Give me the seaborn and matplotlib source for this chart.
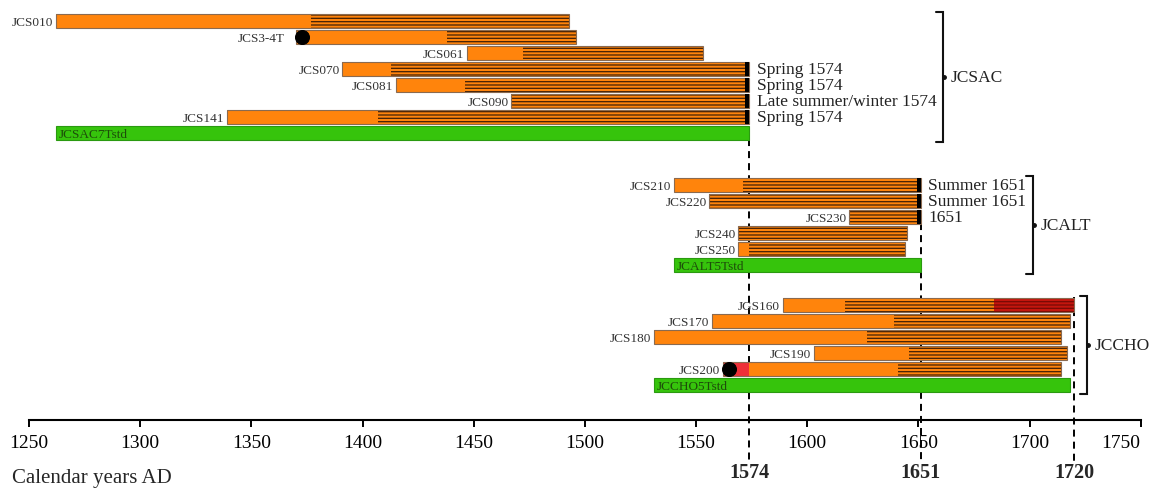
import numpy as np
import matplotlib
matplotlib.use("Agg")
import matplotlib.pyplot as plt
import seaborn as sns

# dated tree-ring series, calendar years AD
top_names = ["JCS010", "JCS3-4T", "JCS061", "JCS070", "JCS081", "JCS090", "JCS141", "JCSAC7Tstd"]
top_start = [1262, 1370, 1447, 1391, 1415, 1467, 1339, 1262]
top_sap = [1377, 1438, 1472, 1413, 1446, 1467, 1407, None]
top_end = [1493, 1496, 1553, 1574, 1574, 1574, 1574, 1574]
top_notes = ["", "", "", "Spring 1574", "Spring 1574", "Late summer/winter 1574", "Spring 1574", ""]

mid_names = ["JCS210", "JCS220", "JCS230", "JCS240", "JCS250", "JCALT5Tstd"]
mid_start = [1540, 1556, 1619, 1569, 1569, 1540]
mid_sap = [1571, 1556, 1619, 1569, 1574, None]
mid_end = [1651, 1651, 1651, 1645, 1644, 1651]
mid_notes = ["Summer 1651", "Summer 1651", "1651", "", "", ""]

bot_names = ["JGS160", "JCS170", "JCS180", "JCS190", "JCS200", "JCCHO5Tstd"]
bot_start = [1589, 1557, 1531, 1603, 1562, 1531]
bot_sap = [1617, 1639, 1627, 1646, 1641, None]
bot_end = [1720, 1718, 1714, 1717, 1714, 1718]
bot_notes = ["", "", "", "", "", ""]

# special parts of some series
late_red_name, late_red_from = "JGS160", 1684
early_red_name, early_red_to = "JCS200", 1574
pith_names = ["JCS3-4T", "JCS200"]
pith_years = [1373, 1565]
cap_names = ["JCS070", "JCS081", "JCS090", "JCS141", "JCS210", "JCS220", "JCS230"]

groups = ["JCSAC", "JCALT", "JCCHO"]
felling_years = [1574, 1651, 1720]

ORANGE = "#ff840c"
HATCH = "#4a2506"
EDGE = "#8a6a50"
GREEN = "#36c40c"
DKGREEN = "#1d4d0a"
RED = "#ee3038"
DKRED = "#c4160e"

sns.set_theme(style="white")
plt.rcParams["font.family"] = ["Liberation Serif", "DejaVu Serif"]
plt.rcParams["hatch.linewidth"] = 0.95

fig = plt.figure(figsize=(11.54, 4.89), dpi=100)
ax = fig.add_axes([0, 0, 1, 1])
ax.set_xlim(1236.96, 1755.98)
ax.set_ylim(489, 0)

ROW = 16
BAR_H = 14
pith_y = {}


def draw_group(names, start, sap, end, notes, y0):
    ys = y0 + ROW * np.arange(len(names))
    for name, s, h, e, note, y in zip(names, start, sap, end, notes, ys):
        if h is None:
            # standard chronology
            ax.barh(y, e - s, left=s, height=BAR_H, color=GREEN, edgecolor="#2a9a10", lw=0.8, zorder=2)
            ax.text(s + 1.5, y + 0.5, name, ha="left", va="center", fontsize=9.5, color=DKGREEN, zorder=4)
            continue
        first = s
        if name == early_red_name:
            ax.barh(y, early_red_to - s, left=s, height=BAR_H, color=RED, lw=0, zorder=2)
            first = early_red_to
        if h > first:
            ax.barh(y, h - first, left=first, height=BAR_H, color=ORANGE, lw=0, zorder=2)
        hatch_end = late_red_from if name == late_red_name else e
        ax.barh(y, hatch_end - h, left=h, height=BAR_H, color=ORANGE, edgecolor=HATCH,
                hatch="-----", lw=0, zorder=2)
        if name == late_red_name:
            ax.barh(y, e - hatch_end, left=hatch_end, height=BAR_H, color=DKRED, edgecolor="#7a0a05",
                    hatch="-----", lw=0, zorder=2)
        ax.barh(y, e - s, left=s, height=BAR_H, fill=False, edgecolor=EDGE, lw=0.8, zorder=3)
        if name in cap_names:
            ax.barh(y, 1.8, left=e - 1.8, height=BAR_H, color="black", lw=0, zorder=3)
        gap = 5.0 if name == "JCS3-4T" else 1.2
        ax.text(s - gap, y + 0.5, name, ha="right", va="center", fontsize=9.5, color="#333333", zorder=4)
        if note:
            ax.text(e + 3.4, y + 0.5, note, ha="left", va="center", fontsize=12.5, color="#222222")
        pith_y[name] = y
    return ys


top_y = draw_group(top_names, top_start, top_sap, top_end, top_notes, 22)
mid_y = draw_group(mid_names, mid_start, mid_sap, mid_end, mid_notes, 186)
bot_y = draw_group(bot_names, bot_start, bot_sap, bot_end, bot_notes, 306)

# pith markers
sns.scatterplot(x=pith_years, y=[pith_y[n] for n in pith_names], color="black", s=100,
                edgecolor="black", legend=False, ax=ax, zorder=5)

# felling dates
line_tops = [128, 212, 298]
for yr, top in zip(felling_years, line_tops):
    ax.plot([yr, yr], [top, 462], color="black", lw=1.4, dashes=(3.6, 2.6), zorder=1)
    ax.text(yr, 473, str(yr), ha="center", va="center", fontsize=14.5, fontweight="bold")

# group brackets
bracket_x = [1661, 1701.6, 1725.8]
for name, ys, bx in zip(groups, [top_y, mid_y, bot_y], bracket_x):
    y1, y2 = ys[0] - 9, ys[-1] + 9
    ax.plot([bx - 3.2, bx, bx, bx - 3.2], [y1, y1, y2, y2], color="#111111", lw=1.5,
            solid_joinstyle="miter")
    ym = (y1 + y2) / 2
    ax.plot([bx + 0.6], [ym], marker="o", ms=2.5, color="#111111")
    ax.text(bx + 3.6, ym, name, ha="left", va="center", fontsize=12.5, color="#222222")

# time axis
for sp in ["top", "left", "right"]:
    ax.spines[sp].set_visible(False)
ax.spines["bottom"].set_position(("data", 421))
ax.spines["bottom"].set_bounds(1250, 1750)
ax.spines["bottom"].set_linewidth(1.5)
ax.spines["bottom"].set_color("black")
ax.set_xticks(np.arange(1250, 1751, 50))
ax.set_yticks([])
ax.tick_params(axis="x", direction="out", length=5, width=1.4, pad=5, labelsize=14,
               colors="black", bottom=True)
# keep the last year label inside the picture
ax.xaxis.get_major_ticks()[-1].label1.set_horizontalalignment("right")
ax.text(1242.4, 479, "Calendar years AD", ha="left", va="center", fontsize=15)

fig.savefig("out.png", dpi=100)
